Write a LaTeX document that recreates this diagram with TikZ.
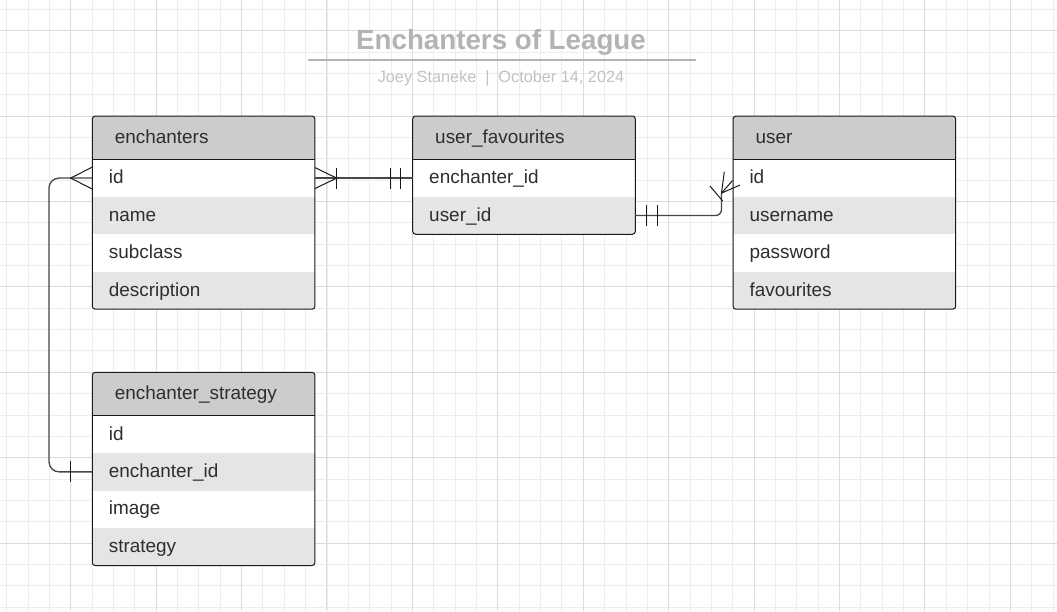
\documentclass[tikz,border=0pt]{standalone}
\usepackage{fontspec}
\setmainfont{Liberation Sans}
\usetikzlibrary{positioning,calc}

\definecolor{gridminor}{HTML}{EDEDED}
\definecolor{gridmajor}{HTML}{DCDCDC}
\definecolor{headgrey}{HTML}{CCCCCC}
\definecolor{rowgrey}{HTML}{E5E5E5}
\definecolor{inkgrey}{HTML}{2E2E2E}
\definecolor{titlegrey}{HTML}{B3B3B3}
\definecolor{bylinegrey}{HTML}{C2C2C2}

\tikzstyle{head} = [anchor=north west, fill=headgrey, text=inkgrey, minimum height=32.5pt, text width=133.2pt, inner xsep=16.9pt, inner ysep=0pt, outer sep=0pt, text height=11pt, text depth=2.5pt, align=left, font=\fontsize{14.2}{16}\selectfont]
\tikzstyle{field} = [fill=white, text=inkgrey, minimum height=28.1pt, text width=142.2pt, inner xsep=12.4pt, inner ysep=0pt, outer sep=0pt, text height=11pt, text depth=2.5pt, align=left, font=\fontsize{14.2}{16}\selectfont]
\tikzstyle{fieldalt} = [field, fill=rowgrey]
\tikzstyle{box} = [draw=black!90, line width=0.75pt, rounded corners=2.25pt]
\tikzstyle{link} = [draw=black!72, line width=1pt]
\tikzstyle{foot} = [draw=black!90, line width=0.75pt]

\begin{document}
\begin{tikzpicture}[x=0.75pt, y=-0.75pt, node distance=0pt]
\useasboundingbox[fill=white] (0,0) rectangle (1057,611);
% grid
\foreach \k in {0,...,49} \draw[gridminor, line width=0.75pt] ({6.7+21.355*\k},0) -- ++(0,611);
\foreach \k in {0,...,28} \draw[gridminor, line width=0.75pt] (0,{9.3+21.355*\k}) -- ++(1057,0);
\foreach \k in {0,...,11} \draw[gridmajor, line width=0.75pt] ({70.7+85.42*\k},0) -- ++(0,611);
\foreach \k in {0,...,6} \draw[gridmajor, line width=0.75pt] (0,{30.7+85.42*\k}) -- ++(1057,0);

% title
\node[anchor=base, text=titlegrey, font=\fontsize{20.8}{24}\selectfont\bfseries] (title) at (501,49.3) {Enchanters of League};
\draw[titlegrey, line width=1.5pt] (308.3,60) -- (695.7,60);
\node[anchor=base, text=bylinegrey, font=\fontsize{12.2}{15}\selectfont] (byline) at (501,82.7) {Joey Staneke\hspace{0.55em}|\hspace{0.55em}October 14, 2024};

% enchanters
\node[head] (ench-h) at (92.3,116) {enchanters};
\node[field, below=of ench-h] (ench-id) {id};
\node[fieldalt, below=of ench-id] (ench-name) {name};
\node[field, below=of ench-name] (ench-sub) {subclass};
\node[fieldalt, below=of ench-sub] (ench-desc) {description};
\draw[box] (ench-h.north west) rectangle (ench-desc.south east);
\draw[foot] (ench-h.south west) -- (ench-h.south east);

% user_favourites
\node[head] (fav-h) at (412.7,116) {user\_favourites};
\node[field, below=of fav-h] (fav-ench) {enchanter\_id};
\node[fieldalt, below=of fav-ench] (fav-user) {user\_id};
\draw[box] (fav-h.north west) rectangle (fav-user.south east);
\draw[foot] (fav-h.south west) -- (fav-h.south east);

% user
\node[head] (user-h) at (733,116) {user};
\node[field, below=of user-h] (user-id) {id};
\node[fieldalt, below=of user-id] (user-name) {username};
\node[field, below=of user-name] (user-pass) {password};
\node[fieldalt, below=of user-pass] (user-fav) {favourites};
\draw[box] (user-h.north west) rectangle (user-fav.south east);
\draw[foot] (user-h.south west) -- (user-h.south east);

% enchanter_strategy
\node[head] (strat-h) at (92.3,372.3) {enchanter\_strategy};
\node[field, below=of strat-h] (strat-id) {id};
\node[fieldalt, below=of strat-id] (strat-ench) {enchanter\_id};
\node[field, below=of strat-ench] (strat-img) {image};
\node[fieldalt, below=of strat-img] (strat-text) {strategy};
\draw[box] (strat-h.north west) rectangle (strat-text.south east);
\draw[foot] (strat-h.south west) -- (strat-h.south east);

% enchanters -- user_favourites
\draw[link] (ench-id.east) -- (fav-ench.west);
\draw[foot] ($(ench-id.east)+(0,-10.5)$) -- ($(ench-id.east)+(21.7,0)$) -- ($(ench-id.east)+(0,10.5)$);
\draw[foot] ($(ench-id.east)+(21.7,-10.5)$) -- ++(0,21);
\draw[foot] ($(fav-ench.west)+(-21.8,-10.5)$) -- ++(0,21);
\draw[foot] ($(fav-ench.west)+(-11.8,-10.5)$) -- ++(0,21);

% user_favourites -- user
\coordinate (uheel) at ($(user-id.west)+(-11.5,15)$);
\draw[link, rounded corners=4.5pt] (fav-user.east) -| (uheel);
\draw[foot] (uheel) -- ++(2.8,-21.3);
\draw[foot] (uheel) -- ++(11,-12.5);
\draw[foot] (uheel) -- ++(18.5,-8);
\draw[foot] ($(uheel)+(-11.5,-7)$) -- ($(uheel)+(1.2,8)$);
\draw[foot] ($(fav-user.east)+(11.5,-10.5)$) -- ++(0,21);
\draw[foot] ($(fav-user.east)+(21.7,-10.5)$) -- ++(0,21);

% enchanter_strategy -- enchanters
\draw[link, rounded corners=7.5pt] (strat-ench.west) -| ($(ench-id.west)+(-43.3,0)$) -- (ench-id.west);
\draw[foot] ($(ench-id.west)+(0,-11)$) -- ($(ench-id.west)+(-21.6,0)$) -- ($(ench-id.west)+(0,11)$);
\draw[foot] ($(strat-ench.west)+(-21.6,-10.5)$) -- ++(0,21);
\end{tikzpicture}
\end{document}
